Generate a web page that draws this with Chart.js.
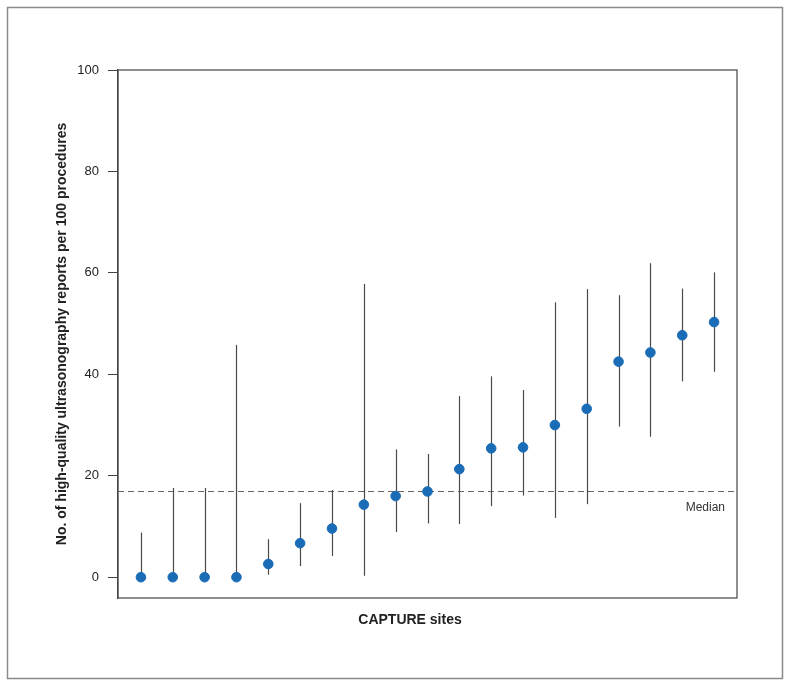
<!DOCTYPE html>
<html>
<head>
<meta charset="utf-8">
<script src="https://cdn.jsdelivr.net/npm/chart.js@4"></script>
<style>
  html, body { margin: 0; padding: 0; background: #fff; }
  #wrap { width: 791px; height: 687px; }
</style>
</head>
<body>
<div id="wrap"><canvas id="chart" width="791" height="687"></canvas></div>
<script>
// Sites ordered by rate
const sites = [1, 2, 3, 4, 5, 6, 7, 8, 9, 10, 11, 12, 13, 14, 15, 16, 17, 18, 19];
const rates = [0, 0, 0, 0, 2.6, 6.7, 9.6, 14.3, 16.0, 16.9, 21.3, 25.4, 25.6, 30.0, 33.2, 42.5, 44.3, 47.7, 50.3];
const lower = [0, 0, 0, 0, 0.5, 2.2, 4.2, 0.3, 8.9, 10.6, 10.5, 14.0, 16.1, 11.7, 14.4, 29.7, 27.7, 38.6, 40.5];
const upper = [8.8, 17.6, 17.6, 45.8, 7.5, 14.6, 17.2, 57.8, 25.2, 24.3, 35.7, 39.6, 36.9, 54.2, 56.8, 55.6, 61.9, 56.9, 60.1];
const median = 17.0;
const yTicks = [0, 20, 40, 60, 80, 100];

const FONT = '"Liberation Sans", Arial, Helvetica, sans-serif';

// Error bars, median line, frames and x title
const extras = {
    id: 'extras',
    beforeDraw(chart) {
        const ctx = chart.ctx;
        ctx.save();
        ctx.fillStyle = '#fff';
        ctx.fillRect(0, 0, chart.width, chart.height);
        ctx.strokeStyle = '#8a8a8a';
        ctx.lineWidth = 1.5;
        ctx.strokeRect(7.5, 7.5, 775, 671);
        ctx.restore();
    },
    beforeDatasetsDraw(chart) {
        const ctx = chart.ctx;
        const x = chart.scales.x;
        const y = chart.scales.y;
        const area = chart.chartArea;
        ctx.save();
        // plot box
        ctx.strokeStyle = '#444';
        ctx.lineWidth = 1.2;
        ctx.strokeRect(area.left, area.top, area.right - area.left, area.bottom - area.top);

        // median
        const my = Math.round(y.getPixelForValue(median)) + 0.5;
        ctx.strokeStyle = '#666';
        ctx.lineWidth = 1;
        ctx.setLineDash([6, 4]);
        ctx.beginPath();
        ctx.moveTo(area.left, my);
        ctx.lineTo(area.right, my);
        ctx.stroke();
        ctx.setLineDash([]);
        ctx.fillStyle = '#333';
        ctx.font = '12px ' + FONT;
        ctx.textAlign = 'right';
        ctx.textBaseline = 'middle';
        ctx.fillText('Median', area.right - 12, my + 16);

        // confidence intervals
        ctx.strokeStyle = '#4a4a4a';
        ctx.lineWidth = 1.2;
        sites.forEach((s, i) => {
            const px = Math.round(x.getPixelForValue(s)) + 0.5;
            ctx.beginPath();
            ctx.moveTo(px, y.getPixelForValue(lower[i]));
            ctx.lineTo(px, y.getPixelForValue(upper[i]));
            ctx.stroke();
        });

        // x title
        ctx.fillStyle = '#222';
        ctx.font = 'bold 14px ' + FONT;
        ctx.textAlign = 'center';
        ctx.fillText('CAPTURE sites', 410, 620);
        ctx.restore();
    }
};

const ctx = document.getElementById('chart').getContext('2d');
new Chart(ctx, {
    type: 'scatter',
    data: {
        datasets: [{
            data: sites.map((s, i) => ({ x: s, y: rates[i] })),
            backgroundColor: '#1b6cb6',
            borderColor: '#1b6cb6',
            pointRadius: 4.8,
            pointHoverRadius: 4.8
        }]
    },
    options: {
        responsive: false,
        animation: false,
        layout: { padding: { left: 50, right: 54, top: 70, bottom: 89 } },
        plugins: {
            legend: { display: false },
            tooltip: { enabled: false }
        },
        scales: {
            x: {
                type: 'linear',
                min: 0.28,
                max: 19.72,
                display: false
            },
            y: {
                min: -4.1,
                max: 100,
                afterBuildTicks: scale => {
                    scale.ticks = yTicks.map(v => ({ value: v }));
                },
                afterFit: scale => { scale.width = 68; },
                grid: {
                    drawOnChartArea: false,
                    drawTicks: true,
                    tickLength: 10,
                    color: '#444'
                },
                border: { display: true, color: '#444', width: 1.2 },
                ticks: {
                    padding: 9,
                    color: '#222',
                    font: { family: FONT, size: 13 }
                },
                title: {
                    display: true,
                    text: 'No. of high-quality ultrasonography reports per 100 procedures',
                    color: '#222',
                    font: { family: FONT, size: 14, weight: 'bold' },
                    padding: { top: 4, bottom: 0 }
                }
            }
        }
    },
    plugins: [extras]
});
</script>
</body>
</html>
